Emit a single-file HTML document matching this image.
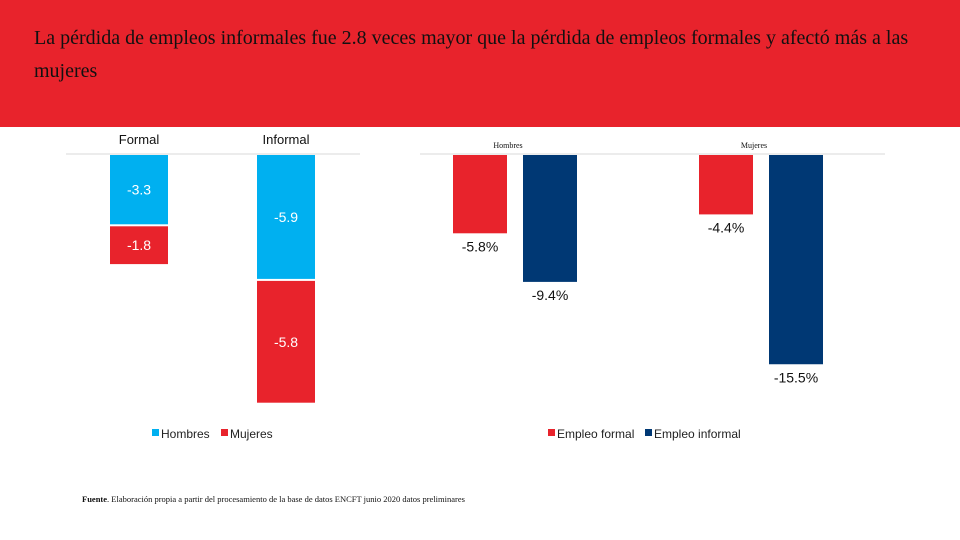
<!DOCTYPE html>
<html><head><meta charset="utf-8"><style>
body{margin:0;width:960px;height:540px;background:#fff;overflow:hidden;position:relative;font-family:"Liberation Sans",sans-serif}
#hdr{position:absolute;left:0;top:0;width:960px;height:127px;background:#e8232c}
#title{position:absolute;left:34px;top:22px;width:910px;font-family:"Liberation Serif",serif;font-size:20px;line-height:33px;color:#111}
svg{position:absolute;left:0;top:0}
</style></head><body>
<div id="hdr"></div>
<div id="title">La pérdida de empleos informales fue 2.8 veces mayor que la pérdida de empleos formales y afectó más a las mujeres</div>
<svg id="c" width="960" height="540"></svg>
<div style="position:absolute;left:82px;top:494px;font-family:'Liberation Serif',serif;font-size:8.5px;color:#111;white-space:nowrap"><b>Fuente</b>. Elaboración propia a partir del procesamiento de la base de datos ENCFT junio 2020 datos preliminares</div>
<script>
const leftCats=["Formal","Informal"];
const leftHombres=[3.3,5.9];
const leftMujeres=[1.8,5.8];
const rightCats=["Hombres","Mujeres"];
const rightFormal=[5.8,4.4];
const rightInformal=[9.4,15.5];
const NS="http://www.w3.org/2000/svg";
const svg=document.getElementById('c');
function mk(t,a,txt){const e=document.createElementNS(NS,t);for(const k in a)e.setAttribute(k,a[k]);if(txt!==undefined)e.textContent=txt;svg.appendChild(e);return e;}
const base=155;
const lY=v=>v*21, lX=i=>110+i*147, lW=58;
let g=mk('line',{x1:66,x2:360,y1:base-1,y2:base-1,stroke:'#d9d9d9'});

leftCats.forEach((c,i)=>{
 let t=mk('text',{x:lX(i)+lW/2,y:144,'text-anchor':'middle','font-size':13,fill:'#111'},c);
 
 const h1=lY(leftHombres[i]),h2=lY(leftMujeres[i]);
 let b=mk('rect',{x:lX(i),y:base,width:lW,height:h1,fill:'#00b0f0'});
 
 let b2=mk('rect',{x:lX(i),y:base+h1+2,width:lW,height:h2,fill:'#e8232c'});
 
 let l1=mk('text',{x:lX(i)+lW/2,y:base+h1/2+5,'text-anchor':'middle','font-size':14,fill:'#fff'},'-'+leftHombres[i].toFixed(1));
 
 let l2=mk('text',{x:lX(i)+lW/2,y:base+h1+2+h2/2+5,'text-anchor':'middle','font-size':14,fill:'#fff'},'-'+leftMujeres[i].toFixed(1));
 
});
const rY=v=>v*13.5, rX=i=>453+i*246, rW=54;
g=mk('line',{x1:420,x2:885,y1:base-1,y2:base-1,stroke:'#d9d9d9'});

rightCats.forEach((c,i)=>{
 let t=mk('text',{x:rX(i)+55,y:148,'text-anchor':'middle','font-size':8,'font-family':'Liberation Serif,serif',fill:'#111'},c);
 
 [[rightFormal,'#e8232c',0,'bar-formal'],[rightInformal,'#003874',70,'bar-informal']].forEach(([arr,col,dx,nm])=>{
  const h=rY(arr[i]);
  let b=mk('rect',{x:rX(i)+dx,y:base,width:rW,height:h,fill:col});
  
  let l=mk('text',{x:rX(i)+dx+rW/2,y:base+h+18,'text-anchor':'middle','font-size':14,fill:'#111'},'-'+arr[i].toFixed(1)+'%');
  
 });
});
[[152,'#00b0f0','Hombres'],[221,'#e8232c','Mujeres'],[548,'#e8232c','Empleo formal'],[645,'#003874','Empleo informal']].forEach(([x,col,txt])=>{
 let r=mk('rect',{x:x,y:429,width:7,height:7,fill:col});
 
 let t=mk('text',{x:x+9,y:438,'font-size':12,fill:'#222'},txt);
 
});
</script>
</body></html>
